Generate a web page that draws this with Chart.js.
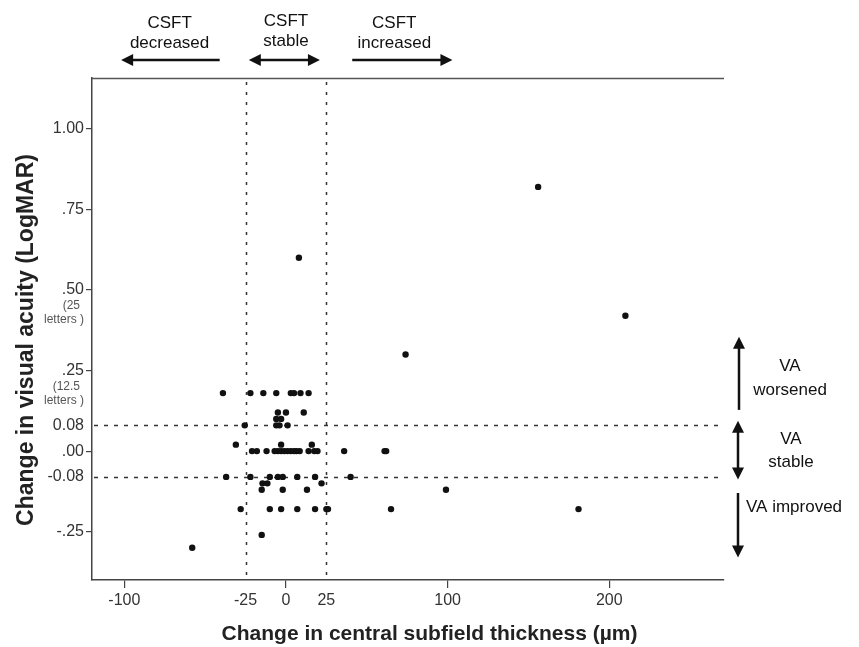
<!DOCTYPE html>
<html><head><meta charset="utf-8">
<script src="https://cdn.jsdelivr.net/npm/chart.js@4.4.0/dist/chart.umd.min.js"></script>
<style>html,body{margin:0;padding:0;background:#fff}</style>
</head><body>
<canvas id="c" width="859" height="647"></canvas>
<script>
// Data
const csftChange = [156, 8, 210, 74,
  -39, -22, -14, -6, 3, 5, 9, 14,
  -5, 0, 11,
  -6, -3,
  -25.5, -6, -4, 1,
  -31, -3, 16,
  -21, -18, -12, -7, -5, -3, -1, 1, 3, 5, 6.5, 8.5, 14, 17.5, 19.5, 36, 61, 62,
  -37, -22, -10, -5, -2, 7, 18, 40,
  -14.5, -11.5, 22,
  -15, -2, 13, 99,
  -28, -10, -3, 7, 18, 25, 26, 65, 181,
  -15,
  -58];
const vaChange = [0.82, 0.60, 0.42, 0.30,
  0.18, 0.18, 0.18, 0.18, 0.18, 0.18, 0.18, 0.18,
  0.12, 0.12, 0.12,
  0.10, 0.10,
  0.08, 0.08, 0.08, 0.08,
  0.02, 0.02, 0.02,
  0, 0, 0, 0, 0, 0, 0, 0, 0, 0, 0, 0, 0, 0, 0, 0, 0, 0,
  -0.08, -0.08, -0.08, -0.08, -0.08, -0.08, -0.08, -0.08,
  -0.10, -0.10, -0.10,
  -0.12, -0.12, -0.12, -0.12,
  -0.18, -0.18, -0.18, -0.18, -0.18, -0.18, -0.18, -0.18, -0.18,
  -0.26,
  -0.30];
const xTickValues = [-100, -25, 0, 25, 100, 200];
const xTickLabels = ['-100', '-25', '0', '25', '100', '200'];
const xMarkedTicks = [-100, 0, 100, 200];
const yTickValues = [1, 0.75, 0.5, 0.25, 0.08, 0, -0.08, -0.25];
const yTickLabels = ['1.00', '.75', '.50', '.25', '0.08', '.00', '-0.08', '-.25'];
const yMarkedTicks = [1, 0.75, 0.5, 0.25, 0, -0.25];
const ySubLabelValues = [0.5, 0.25];
const ySubLabels = [['(25', 'letters )'], ['(12.5', 'letters )']];
const csftThresholds = [-25, 25];
const vaThresholds = [0.08, -0.08];
const xTitle = 'Change in central subfield thickness (µm)';
const yTitle = 'Change in visual acuity (LogMAR)';

const FONT = "'Liberation Sans', Arial, Helvetica, sans-serif";
Chart.defaults.font.family = FONT;

const pts = csftChange.map((x, i) => ({x: x, y: vaChange[i]}));

function arrow(ctx, x1, y1, x2, y2, headStart, headEnd) {
  const L = 12, W = 6;
  const ang = Math.atan2(y2 - y1, x2 - x1);
  const dx = Math.cos(ang), dy = Math.sin(ang);
  const sx = headStart ? x1 + dx * (L - 2) : x1;
  const sy = headStart ? y1 + dy * (L - 2) : y1;
  const ex = headEnd ? x2 - dx * (L - 2) : x2;
  const ey = headEnd ? y2 - dy * (L - 2) : y2;
  ctx.beginPath(); ctx.moveTo(sx, sy); ctx.lineTo(ex, ey); ctx.stroke();
  const head = (tx, ty, ux, uy) => {
    ctx.beginPath();
    ctx.moveTo(tx, ty);
    ctx.lineTo(tx - ux * L - uy * W, ty - uy * L + ux * W);
    ctx.lineTo(tx - ux * L + uy * W, ty - uy * L - ux * W);
    ctx.closePath(); ctx.fill();
  };
  if (headEnd) head(x2, y2, dx, dy);
  if (headStart) head(x1, y1, -dx, -dy);
}

const annot = {
  id: 'annot',
  beforeDatasetsDraw(chart) {
    const {ctx, chartArea: a, scales: {x, y}} = chart;
    ctx.save();
    ctx.strokeStyle = '#333';
    ctx.lineWidth = 1.5;
    ctx.setLineDash([3, 7]);
    csftThresholds.forEach(v => {
      const px = Math.round(x.getPixelForValue(v)) + 0.5;
      ctx.beginPath(); ctx.moveTo(px, a.top + 4); ctx.lineTo(px, a.bottom); ctx.stroke();
    });
    ctx.setLineDash([4, 6]);
    vaThresholds.forEach(v => {
      const py = Math.round(y.getPixelForValue(v)) + 0.5;
      ctx.beginPath(); ctx.moveTo(a.left + 2, py); ctx.lineTo(a.right, py); ctx.stroke();
    });
    ctx.restore();
  },
  afterDraw(chart) {
    const {ctx, chartArea: a, scales: {x, y}} = chart;
    ctx.save();
    // top frame line
    ctx.strokeStyle = '#555'; ctx.lineWidth = 1.5; ctx.setLineDash([]);
    ctx.beginPath(); ctx.moveTo(a.left, a.top + 0.5); ctx.lineTo(a.right, a.top + 0.5); ctx.stroke();

    // axis titles
    ctx.fillStyle = '#222'; ctx.textAlign = 'center'; ctx.textBaseline = 'middle';
    ctx.font = 'bold 21px ' + FONT;
    ctx.fillText(xTitle, chart.width / 2, chart.height - 13);
    ctx.save();
    ctx.translate(27, y.getPixelForValue(0.345));
    ctx.rotate(-Math.PI / 2);
    ctx.font = 'bold 23px ' + FONT;
    ctx.fillText(yTitle, 0, 0);
    ctx.restore();

    // sub labels under y ticks
    ctx.fillStyle = '#555'; ctx.font = '12px ' + FONT;
    ctx.textAlign = 'right'; ctx.textBaseline = 'middle';
    ySubLabelValues.forEach((v, i) => {
      const py = y.getPixelForValue(v);
      ctx.fillText(ySubLabels[i][0], a.left - 12, py + 16);
      ctx.fillText(ySubLabels[i][1], a.left - 8, py + 30);
    });

    // top annotations
    ctx.fillStyle = '#111'; ctx.strokeStyle = '#111'; ctx.lineWidth = 2.5;
    ctx.font = '17px ' + FONT; ctx.textAlign = 'center'; ctx.textBaseline = 'middle';
    const ay = a.top - 18;
    ctx.fillText('CSFT', x.getPixelForValue(-72), a.top - 55);
    ctx.fillText('decreased', x.getPixelForValue(-72), a.top - 35);
    ctx.fillText('CSFT', x.getPixelForValue(0), a.top - 57);
    ctx.fillText('stable', x.getPixelForValue(0), a.top - 37);
    ctx.fillText('CSFT', x.getPixelForValue(67), a.top - 55);
    ctx.fillText('increased', x.getPixelForValue(67), a.top - 35);
    arrow(ctx, x.getPixelForValue(-41), ay, x.getPixelForValue(-102), ay, false, true);
    arrow(ctx, x.getPixelForValue(-23), ay, x.getPixelForValue(21), ay, true, true);
    arrow(ctx, x.getPixelForValue(41), ay, x.getPixelForValue(103), ay, false, true);

    // right annotations
    const rx = a.right + 15;
    arrow(ctx, rx, y.getPixelForValue(0.128), rx, y.getPixelForValue(0.355), false, true);
    arrow(ctx, rx - 1, y.getPixelForValue(0.094), rx - 1, y.getPixelForValue(-0.088), true, true);
    arrow(ctx, rx - 1, y.getPixelForValue(-0.13), rx - 1, y.getPixelForValue(-0.33), false, true);
    ctx.lineWidth = 1;
    ctx.textAlign = 'center';
    ctx.fillText('VA', a.right + 66, y.getPixelForValue(0.262));
    ctx.fillText('worsened', a.right + 66, y.getPixelForValue(0.188));
    ctx.fillText('VA', a.right + 67, y.getPixelForValue(0.036));
    ctx.fillText('stable', a.right + 67, y.getPixelForValue(-0.034));
    ctx.textAlign = 'left';
    ctx.fillText('VA improved', a.right + 22, y.getPixelForValue(-0.174));
    ctx.restore();
  }
};

new Chart(document.getElementById('c'), {
  type: 'scatter',
  data: {datasets: [{
    data: pts,
    pointRadius: 3.2,
    pointHoverRadius: 3.2,
    pointBackgroundColor: '#111',
    pointBorderWidth: 0
  }]},
  options: {
    responsive: false,
    animation: false,
    devicePixelRatio: 1,
    layout: {padding: {left: 0, top: 78, right: 135, bottom: 0}},
    plugins: {legend: {display: false}, tooltip: {enabled: false}},
    scales: {
      x: {
        type: 'linear', min: -120, max: 271,
        afterBuildTicks: s => { s.ticks = xTickValues.map(v => ({value: v})); },
        afterFit: s => { s.height = 67; },
        ticks: {
          autoSkip: false, maxRotation: 0, padding: 3,
          color: '#333', font: {size: 16},
          callback: v => xTickLabels[xTickValues.indexOf(v)]
        },
        grid: {
          drawOnChartArea: false, drawTicks: true, tickLength: 8, lineWidth: 1.2,
          color: c => (c.tick && xMarkedTicks.includes(c.tick.value)) ? '#444' : 'rgba(0,0,0,0)'
        },
        border: {display: true, color: '#444', width: 1.5},
        title: {display: false, text: xTitle}
      },
      y: {
        type: 'linear', min: -0.40, max: 1.158,
        afterBuildTicks: s => { s.ticks = yTickValues.map(v => ({value: v})); },
        afterFit: s => { s.width = 92; },
        ticks: {
          autoSkip: false, padding: 2,
          color: '#333', font: {size: 16},
          callback: v => yTickLabels[yTickValues.indexOf(v)]
        },
        grid: {
          drawOnChartArea: false, drawTicks: true, tickLength: 6, lineWidth: 1.2,
          color: c => (c.tick && yMarkedTicks.includes(c.tick.value)) ? '#444' : 'rgba(0,0,0,0)'
        },
        border: {display: true, color: '#444', width: 1.5},
        title: {display: false, text: yTitle}
      }
    }
  },
  plugins: [annot]
});
</script>
</body></html>
